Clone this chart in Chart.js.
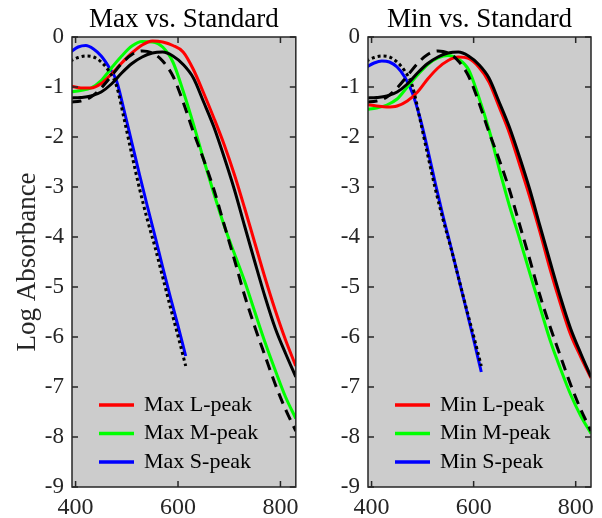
<!DOCTYPE html>
<html>
<head>
<meta charset="utf-8">
<script src="https://cdn.jsdelivr.net/npm/chart.js@4.4.0/dist/chart.umd.min.js"></script>
<style>
  body { margin: 0; background: #fff; }
  canvas { position: absolute; top: 0; }
  #maxChart { left: 0; }
  #minChart { left: 300px; }
</style>
</head>
<body>
<canvas id="maxChart" width="305" height="518"></canvas>
<canvas id="minChart" width="302" height="518"></canvas>
<script>
// wavelength grids (nm)
const lmWave = [390, 410, 430, 450, 470, 490, 510, 530, 550, 570, 590, 610, 630, 650, 670, 690, 710, 730, 750, 770, 790, 810, 830];
const sWave = [390, 405, 420, 435, 450, 465, 480, 495, 510, 525, 540, 555, 570, 585, 600, 615];

// log absorbance
const maxL = [-0.98, -1.02, -1.02, -0.93, -0.74, -0.52, -0.32, -0.16, -0.08, -0.10, -0.17, -0.30, -0.65, -1.12, -1.62, -2.15, -2.75, -3.42, -4.12, -4.82, -5.47, -6.06, -6.58];
const maxM = [-1.10, -1.07, -1.02, -0.87, -0.62, -0.38, -0.18, -0.09, -0.10, -0.20, -0.50, -1.08, -1.74, -2.45, -3.13, -3.77, -4.33, -4.88, -5.50, -6.11, -6.67, -7.20, -7.63];
const maxS = [-0.30, -0.20, -0.17, -0.24, -0.38, -0.60, -0.88, -1.48, -2.12, -2.76, -3.38, -3.98, -4.60, -5.20, -5.78, -6.38];

const minL = [-1.35, -1.38, -1.40, -1.38, -1.28, -1.10, -0.84, -0.62, -0.47, -0.40, -0.43, -0.60, -0.90, -1.40, -1.92, -2.55, -3.20, -3.90, -4.65, -5.33, -5.95, -6.40, -6.82];
const minM = [-1.45, -1.42, -1.36, -1.24, -1.00, -0.76, -0.55, -0.42, -0.37, -0.44, -0.65, -1.20, -1.85, -2.63, -3.37, -4.03, -4.72, -5.40, -6.07, -6.63, -7.15, -7.58, -7.93];
const minS = [-0.60, -0.52, -0.48, -0.50, -0.60, -0.80, -1.12, -1.62, -2.25, -2.93, -3.58, -4.18, -4.80, -5.42, -6.05, -6.70];

const stdL = [-1.22, -1.21, -1.18, -1.10, -0.94, -0.72, -0.53, -0.40, -0.32, -0.30, -0.38, -0.55, -0.82, -1.30, -1.80, -2.40, -3.05, -3.78, -4.50, -5.20, -5.83, -6.33, -6.80];
const stdM = [-1.30, -1.28, -1.20, -1.02, -0.78, -0.53, -0.35, -0.28, -0.32, -0.48, -0.78, -1.30, -1.90, -2.45, -3.05, -3.75, -4.45, -5.17, -5.80, -6.38, -6.95, -7.45, -7.88];
const stdS = [-0.48, -0.41, -0.38, -0.40, -0.50, -0.68, -0.98, -1.65, -2.36, -3.04, -3.65, -4.20, -4.80, -5.40, -5.98, -6.58];

const xTicks = [400, 600, 800];
const yTicks = [-9, -8, -7, -6, -5, -4, -3, -2, -1, 0];

const FONT = 'Liberation Serif';

const pts = (xs, ys) => xs.map((x, i) => ({ x: x, y: ys[i] }));

const line = (label, xs, ys, color, dash, legend) => ({
  label: label,
  data: pts(xs, ys),
  borderColor: color,
  borderWidth: 3,
  borderDash: dash || [],
  pointRadius: 0,
  cubicInterpolationMode: 'monotone',
  order: color === '#000000' ? 0 : 1,
  showInLegend: legend
});

// grey box, title over the box, inward ticks on all four sides, legend lower left
const frame = {
  id: 'frame',
  beforeDraw(chart) {
    const { ctx, chartArea: a } = chart;
    ctx.save();
    ctx.fillStyle = '#cccccc';
    ctx.fillRect(a.left, a.top, a.right - a.left, a.bottom - a.top);
    ctx.restore();
  },
  afterDraw(chart, args, opts) {
    const { ctx, chartArea: a, scales } = chart;
    ctx.save();
    ctx.strokeStyle = '#262626';
    ctx.lineWidth = 1.5;
    ctx.strokeRect(a.left, a.top, a.right - a.left, a.bottom - a.top);
    ctx.beginPath();
    scales.x.ticks.forEach(t => {
      const px = scales.x.getPixelForValue(t.value);
      ctx.moveTo(px, a.bottom); ctx.lineTo(px, a.bottom - 6);
      ctx.moveTo(px, a.top); ctx.lineTo(px, a.top + 6);
    });
    scales.y.ticks.forEach(t => {
      const py = scales.y.getPixelForValue(t.value);
      ctx.moveTo(a.left, py); ctx.lineTo(a.left + 6, py);
      ctx.moveTo(a.right, py); ctx.lineTo(a.right - 6, py);
    });
    ctx.stroke();

    ctx.fillStyle = '#000';
    ctx.font = '27px "' + FONT + '"';
    ctx.textAlign = 'center';
    ctx.textBaseline = 'alphabetic';
    ctx.fillText(opts.title, (a.left + a.right) / 2, 27);

    const items = chart.data.datasets.filter(d => d.showInLegend);
    ctx.font = '22px "' + FONT + '"';
    ctx.textAlign = 'left';
    ctx.textBaseline = 'middle';
    items.forEach((d, i) => {
      const y = a.bottom - 82 + i * 28.5;
      ctx.strokeStyle = d.borderColor;
      ctx.lineWidth = 3.5;
      ctx.beginPath();
      ctx.moveTo(a.left + 27, y);
      ctx.lineTo(a.left + 62, y);
      ctx.stroke();
      ctx.fillText(d.label, a.left + 72, y);
    });
    ctx.restore();
  }
};

function makeChart(id, title, sets, yWidth, padRight, yTitle) {
  new Chart(document.getElementById(id).getContext('2d'), {
    type: 'line',
    data: { datasets: sets },
    plugins: [frame],
    options: {
      responsive: false,
      animation: false,
      layout: { padding: { top: 37, right: padRight } },
      plugins: {
        legend: { display: false },
        tooltip: { enabled: false },
        title: { display: false },
        frame: { title: title }
      },
      scales: {
        x: {
          type: 'linear',
          min: 393,
          max: 830,
          grid: { display: false, drawTicks: false },
          border: { display: false },
          afterBuildTicks: s => { s.ticks = xTicks.map(v => ({ value: v })); },
          afterFit: s => { s.height = 31; },
          ticks: { color: '#262626', padding: 6, font: { family: FONT, size: 24 } }
        },
        y: {
          min: -9,
          max: 0,
          grid: { display: false, drawTicks: false },
          border: { display: false },
          afterBuildTicks: s => { s.ticks = yTicks.map(v => ({ value: v })); },
          afterFit: s => { s.width = yWidth; },
          ticks: { color: '#262626', padding: 8, font: { family: FONT, size: 23 } },
          title: {
            display: yTitle !== '',
            text: yTitle,
            color: '#262626',
            padding: { top: 12, bottom: 0 },
            font: { family: FONT, size: 27 }
          }
        }
      }
    }
  });
}

makeChart('maxChart', 'Max vs. Standard', [
  line('Max L-peak', lmWave, maxL, '#ff0000', null, true),
  line('Max M-peak', lmWave, maxM, '#00ff00', null, true),
  line('Max S-peak', sWave, maxS, '#0000ff', null, true),
  line('Standard L', lmWave, stdL, '#000000', null, false),
  line('Standard M', lmWave, stdM, '#000000', [11, 7], false),
  line('Standard S', sWave, stdS, '#000000', [3, 3], false)
], 72, 8, 'Log Absorbance');

makeChart('minChart', 'Min vs. Standard', [
  line('Min L-peak', lmWave, minL, '#ff0000', null, true),
  line('Min M-peak', lmWave, minM, '#00ff00', null, true),
  line('Min S-peak', sWave, minS, '#0000ff', null, true),
  line('Standard L', lmWave, stdL, '#000000', null, false),
  line('Standard M', lmWave, stdM, '#000000', [11, 7], false),
  line('Standard S', sWave, stdS, '#000000', [3, 3], false)
], 68, 11, '');
</script>
</body>
</html>
